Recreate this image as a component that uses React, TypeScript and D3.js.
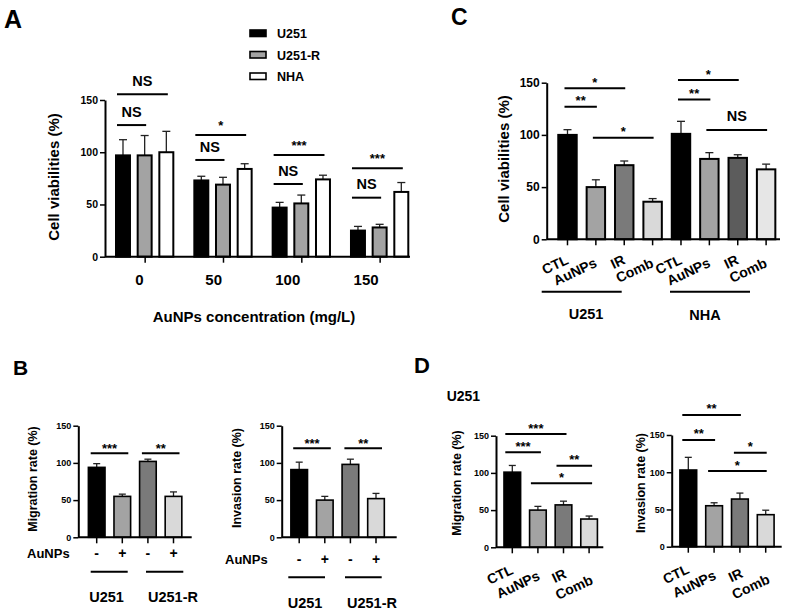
import React, { useEffect, useRef } from 'react';
import * as d3 from 'd3';

const FONT = '"Liberation Sans", Arial, Helvetica, sans-serif';
const yTicks = [0, 50, 100, 150];

// ---- Panel A: viability vs AuNPs concentration ----
const concentrations = ['0', '50', '100', '150'];
const cellLines = ['U251', 'U251-R', 'NHA'];
const cellLineFills = ['#000000', '#a3a3a3', '#ffffff'];
const u251Viability = [97, 73, 47, 25];
const u251ViabilitySd = [15, 4, 5, 4];
const u251rViability = [97, 69, 51, 28];
const u251rViabilitySd = [19, 7, 8, 3];
const nhaViability = [100, 84, 74, 62];
const nhaViabilitySd = [20, 5, 4, 9];

const aBrackets = [
  { group: '0', from: 0, to: 2, level: 155.5, label: 'NS' },
  { group: '0', from: 0, to: 1, level: 126, label: 'NS' },
  { group: '50', from: 0, to: 2, level: 116.5, label: '*' },
  { group: '50', from: 0, to: 1, level: 92.6, label: 'NS' },
  { group: '100', from: 0, to: 2, level: 97.3, label: '***' },
  { group: '100', from: 0, to: 1, level: 69.6, label: 'NS' },
  { group: '150', from: 0, to: 2, level: 84.6, label: '***' },
  { group: '150', from: 0, to: 1, level: 56.5, label: 'NS' },
];

// ---- Panel C: viability by treatment ----
const treatments = ['CTL', 'AuNPs', 'IR', 'Comb'];
const cKeys = ['U251-CTL', 'U251-AuNPs', 'U251-IR', 'U251-Comb', 'NHA-CTL', 'NHA-AuNPs', 'NHA-IR', 'NHA-Comb'];
const cU251Viability = [100, 50, 71, 36];
const cU251Sd = [5, 7, 4, 3];
const cNhaViability = [101, 77, 78, 67];
const cNhaSd = [12, 6, 3, 5];
const cFills = ['#000000', '#a3a3a3', '#7a7a7a', '#d9d9d9', '#000000', '#a3a3a3', '#5c5c5c', '#e6e6e6'];
const cBrackets = [
  { from: 0, to: 2, level: 144.6, label: '*' },
  { from: 0, to: 1, level: 127, label: '**' },
  { from: 1, to: 3, level: 97.3, label: '*' },
  { from: 4, to: 6, level: 152.6, label: '*' },
  { from: 4, to: 5, level: 134, label: '**' },
  { from: 5, to: 7, level: 104.7, label: 'NS' },
];

// ---- Panel B: migration / invasion, U251 vs U251-R ----
const bKeys = ['U251-', 'U251+', 'U251R-', 'U251R+'];
const bSigns = ['-', '+', '-', '+'];
const bMigration = [94, 55, 102, 55];
const bMigrationSd = [5, 3, 3, 6];
const bInvasion = [91, 50, 98, 52];
const bInvasionSd = [10, 5, 7, 7];
const bFills = ['#000000', '#a3a3a3', '#7a7a7a', '#d9d9d9'];
const bMigBrackets = [
  { from: 0, to: 1, level: 112.9, label: '***' },
  { from: 2, to: 3, level: 112.9, label: '**' },
];
const bInvBrackets = [
  { from: 0, to: 1, level: 119.6, label: '***' },
  { from: 2, to: 3, level: 119.6, label: '**' },
];

// ---- Panel D: migration / invasion by treatment, U251 ----
const dMigration = [101, 50, 57, 38];
const dMigrationSd = [9, 5, 5, 4];
const dInvasion = [103, 55, 64, 43];
const dInvasionSd = [17, 4, 8, 6];
const dFills = ['#000000', '#a3a3a3', '#7a7a7a', '#d9d9d9'];
const dMigBrackets = [
  { from: 0, to: 2, level: 152.3, label: '***' },
  { from: 0, to: 1, level: 127.7, label: '***' },
  { from: 2, to: 3, level: 109.7, label: '**' },
  { from: 1, to: 3, level: 86, label: '*' },
];
const dInvBrackets = [
  { from: 0, to: 2, level: 177, label: '**' },
  { from: 0, to: 1, level: 143.4, label: '**' },
  { from: 2, to: 3, level: 126.3, label: '*' },
  { from: 1, to: 3, level: 101.7, label: '*' },
];

type Bracket = { from: number; to: number; level: number; label: string };

function YAxis({ scale, x, fontSize }: { scale: d3.ScaleLinear<number, number>; x: number; fontSize: number }) {
  const ref = useRef<SVGGElement>(null);
  useEffect(() => {
    if (!ref.current) return;
    const g = d3.select(ref.current);
    g.selectAll('*').remove();
    g.call(d3.axisLeft(scale).tickValues(yTicks).tickSize(5).tickPadding(2).tickSizeOuter(0));
    g.attr('font-family', FONT).attr('font-size', fontSize).attr('font-weight', 'bold');
    g.select('.domain').attr('stroke', '#000').attr('stroke-width', 2);
    g.selectAll('.tick line').attr('stroke', '#000').attr('stroke-width', 1.5);
    g.selectAll('.tick text').attr('fill', '#000');
  });
  return <g ref={ref} transform={`translate(${x},0)`} />;
}

function XTicks({ scale, y }: { scale: d3.ScaleBand<string> | d3.ScalePoint<string>; y: number }) {
  const ref = useRef<SVGGElement>(null);
  useEffect(() => {
    if (!ref.current) return;
    const g = d3.select(ref.current);
    g.selectAll('*').remove();
    g.call(d3.axisBottom(scale as any).tickSize(6).tickSizeOuter(0).tickFormat(() => ''));
    g.select('.domain').remove();
    g.selectAll('.tick line').attr('stroke', '#000').attr('stroke-width', 1.5);
  });
  return <g ref={ref} transform={`translate(0,${y})`} />;
}

function SigMark({ x1, x2, y, label, starGap, nsGap, starSize, nsSize }: any) {
  const isNS = label === 'NS';
  const ty = isNS ? y - nsGap + nsSize * 0.36 : y - starGap + starSize * 0.58;
  return (
    <g>
      <line x1={x1} x2={x2} y1={y} y2={y} stroke="#000" strokeWidth={2} />
      <text x={(x1 + x2) / 2} y={ty} textAnchor="middle" fontSize={isNS ? nsSize : starSize}
        fontWeight="bold" fontFamily={FONT}>{label}</text>
    </g>
  );
}

interface BarPlotProps {
  keys: string[];
  values: number[];
  sds: number[];
  fills: string[];
  band: [number, number];
  axisSpan: [number, number];
  yPix: [number, number];
  yFont: number;
  barStroke: number;
  capWidth: number;
  brackets: Bracket[];
  bracketPad: [number, number];
  starGap: number;
  nsGap?: number;
  labels?: string[];
  labelFont?: number;
  labelOffset?: (i: number) => [number, number];
}

function BarPlot(p: BarPlotProps) {
  const x = d3.scaleBand<string>().domain(p.keys).range(p.band).paddingInner(0.35).paddingOuter(0.175);
  const y = d3.scaleLinear().domain([0, 150]).range(p.yPix);
  const bw = x.bandwidth();
  const cx = (i: number) => (x(p.keys[i]) as number) + bw / 2;
  return (
    <g>
      {p.keys.map((k, i) => {
        const top = y(p.values[i] + p.sds[i]);
        return (
          <g key={k}>
            <line x1={cx(i)} x2={cx(i)} y1={y(p.values[i])} y2={top} stroke="#222" strokeWidth={1.3} />
            <line x1={cx(i) - p.capWidth / 2} x2={cx(i) + p.capWidth / 2} y1={top} y2={top} stroke="#222" strokeWidth={1.3} />
            <rect x={x(k)} y={y(p.values[i])} width={bw} height={y(0) - y(p.values[i])}
              fill={p.fills[i]} stroke="#000" strokeWidth={p.barStroke} />
          </g>
        );
      })}
      <line x1={p.axisSpan[0]} x2={p.axisSpan[1]} y1={y(0)} y2={y(0)} stroke="#000" strokeWidth={2} />
      <XTicks scale={x} y={y(0)} />
      <YAxis scale={y} x={p.axisSpan[0]} fontSize={p.yFont} />
      {p.brackets.map((b, i) => (
        <SigMark key={i} x1={cx(b.from) - p.bracketPad[0]} x2={cx(b.to) + p.bracketPad[1]} y={y(b.level)}
          label={b.label} starGap={p.starGap} nsGap={p.nsGap ?? 13.5} starSize={13} nsSize={14.5} />
      ))}
      {p.labels && p.labels.map((t, i) => {
        const [dx, dy] = p.labelOffset ? p.labelOffset(i) : [2, 25];
        return (
          <text key={i} transform={`translate(${cx(i) + dx},${y(0) + dy}) rotate(-25)`} textAnchor="end"
            fontSize={p.labelFont ?? 14} fontWeight="bold" fontFamily={FONT}>{t}</text>
        );
      })}
    </g>
  );
}

function PanelA() {
  const y = d3.scaleLinear().domain([0, 150]).range([256.7, 100]);
  const xg = d3.scaleBand<string>().domain(concentrations).range([105.5, 418.8]).paddingInner(0.17).paddingOuter(0.085);
  const xs = d3.scaleBand<string>().domain(cellLines).range([0, xg.bandwidth()]).paddingInner(0.355).paddingOuter(0.1775);
  const means = [u251Viability, u251rViability, nhaViability];
  const sds = [u251ViabilitySd, u251rViabilitySd, nhaViabilitySd];
  const gc = (c: string) => (xg(c) as number) + xg.bandwidth() / 2;
  const bc = (c: string, j: number) => (xg(c) as number) + (xs(cellLines[j]) as number) + xs.bandwidth() / 2;
  const px = d3.scalePoint<string>().domain(concentrations).range([gc('0'), gc('150')]);
  return (
    <g>
      {concentrations.map((c, i) => (
        <g key={c}>
          {cellLines.map((l, j) => {
            const v = means[j][i];
            const top = y(v + sds[j][i]);
            const xc = bc(c, j);
            return (
              <g key={l}>
                <line x1={xc} x2={xc} y1={y(v)} y2={top} stroke="#222" strokeWidth={1.3} />
                <line x1={xc - 4} x2={xc + 4} y1={top} y2={top} stroke="#222" strokeWidth={1.3} />
                <rect x={(xg(c) as number) + (xs(l) as number)} y={y(v)} width={xs.bandwidth()} height={y(0) - y(v)}
                  fill={cellLineFills[j]} stroke="#000" strokeWidth={2} />
              </g>
            );
          })}
          <text x={gc(c) - 1} y={285} textAnchor="end" fontSize={15} fontWeight="bold" fontFamily={FONT}>{c}</text>
        </g>
      ))}
      <line x1={105} x2={410} y1={y(0)} y2={y(0)} stroke="#000" strokeWidth={2} />
      <XTicks scale={px} y={y(0)} />
      <YAxis scale={y} x={105} fontSize={10.5} />
      {aBrackets.map((b, i) => (
        <SigMark key={i} x1={bc(b.group, b.from) - 6} x2={bc(b.group, b.to) + 1.5} y={y(b.level)}
          label={b.label} starGap={12.5} nsGap={13.5} starSize={13} nsSize={14.5} />
      ))}
      {cellLines.map((l, j) => (
        <g key={l}>
          <rect x={250} y={30 + j * 21.5} width={16} height={6.5} fill={cellLineFills[j]} stroke="#000" strokeWidth={1.6} />
          <text x={277} y={38 + j * 21.5} fontSize={12.5} fontWeight="bold" fontFamily={FONT}>{l}</text>
        </g>
      ))}
      <text x={254} y={322} textAnchor="middle" fontSize={15} fontWeight="bold" fontFamily={FONT}>AuNPs concentration (mg/L)</text>
      <text transform="translate(59,177) rotate(-90)" textAnchor="middle" fontSize={15} fontWeight="bold" fontFamily={FONT}>Cell viabilities (%)</text>
    </g>
  );
}

const bold = { fontWeight: 'bold' as const, fontFamily: FONT };

export default function App() {
  const bCenters = (band: [number, number]) => {
    const x = d3.scaleBand<string>().domain(bKeys).range(band).paddingInner(0.35).paddingOuter(0.175);
    return bKeys.map((k) => (x(k) as number) + x.bandwidth() / 2);
  };
  const bLeft = bCenters([83.9, 186.3]);
  const bRight = bCenters([286.4, 388.8]);
  return (
    <svg width={790} height={611} style={{ position: 'absolute', left: 0, top: 0, background: '#fff' }}>
      {/* panel letters */}
      <text x={4} y={28} fontSize={25} {...bold}>A</text>
      <text x={451} y={25} fontSize={23} {...bold}>C</text>
      <text x={13} y={375} fontSize={21} {...bold}>B</text>
      <text x={414} y={373} fontSize={22} {...bold}>D</text>

      <PanelA />

      {/* Panel C */}
      <BarPlot keys={cKeys} values={[...cU251Viability, ...cNhaViability]} sds={[...cU251Sd, ...cNhaSd]} fills={cFills}
        band={[553.3, 780.3]} axisSpan={[546.7, 780]} yPix={[239.3, 82.7]} yFont={12} barStroke={2} capWidth={8}
        brackets={cBrackets} bracketPad={[3, 1]} starGap={9} nsGap={14}
        labels={[...treatments, ...treatments]} labelFont={14} labelOffset={(i) => [2, 24 + (i % 2) * 3]} />
      <text transform="translate(509,159) rotate(-90)" textAnchor="middle" fontSize={15} {...bold}>Cell viabilities (%)</text>
      <line x1={541.7} x2={621.7} y1={291.7} y2={291.7} stroke="#000" strokeWidth={2} />
      <line x1={670} x2={750} y1={291.7} y2={291.7} stroke="#000" strokeWidth={2} />
      <text x={586} y={319} textAnchor="middle" fontSize={14.5} {...bold}>U251</text>
      <text x={705} y={320} textAnchor="middle" fontSize={14.5} {...bold}>NHA</text>

      {/* Panel B left: migration */}
      <BarPlot keys={bKeys} values={bMigration} sds={bMigrationSd} fills={bFills}
        band={[83.9, 186.3]} axisSpan={[78.3, 191.7]} yPix={[537.3, 425.7]} yFont={9} barStroke={1.6} capWidth={7}
        brackets={bMigBrackets} bracketPad={[6, 6]} starGap={8} />
      <text transform="translate(37,479) rotate(-90)" textAnchor="middle" fontSize={12.5} {...bold}>Migration rate (%)</text>
      <text x={27} y={558} fontSize={13} {...bold}>AuNPs</text>
      {bSigns.map((s, i) => (
        <text key={i} x={bLeft[i]} y={558} textAnchor="middle" fontSize={14} {...bold}>{s}</text>
      ))}
      <line x1={90.7} x2={127.7} y1={571.7} y2={571.7} stroke="#000" strokeWidth={2} />
      <line x1={146} x2={183.3} y1={571.7} y2={571.7} stroke="#000" strokeWidth={2} />
      <text x={106.5} y={602} textAnchor="middle" fontSize={14.5} {...bold}>U251</text>
      <text x={173} y={602} textAnchor="middle" fontSize={14.5} {...bold}>U251-R</text>

      {/* Panel B right: invasion */}
      <BarPlot keys={bKeys} values={bInvasion} sds={bInvasionSd} fills={bFills}
        band={[286.4, 388.8]} axisSpan={[281.7, 396.7]} yPix={[537.3, 425.7]} yFont={9} barStroke={1.6} capWidth={7}
        brackets={bInvBrackets} bracketPad={[6, 6]} starGap={8} />
      <text transform="translate(241,478) rotate(-90)" textAnchor="middle" fontSize={12.5} {...bold}>Invasion rate (%)</text>
      <text x={225} y={564} fontSize={13} {...bold}>AuNPs</text>
      {bSigns.map((s, i) => (
        <text key={i} x={bRight[i]} y={564} textAnchor="middle" fontSize={14} {...bold}>{s}</text>
      ))}
      <line x1={288.3} x2={325} y1={577.3} y2={577.3} stroke="#000" strokeWidth={2} />
      <line x1={345} x2={381.7} y1={577.3} y2={577.3} stroke="#000" strokeWidth={2} />
      <text x={305} y={608} textAnchor="middle" fontSize={14.5} {...bold}>U251</text>
      <text x={372} y={608} textAnchor="middle" fontSize={14.5} {...bold}>U251-R</text>

      {/* Panel D */}
      <text x={446.7} y={401} fontSize={14} {...bold}>U251</text>
      <BarPlot keys={treatments} values={dMigration} sds={dMigrationSd} fills={dFills}
        band={[499.5, 601.9]} axisSpan={[496, 603.3]} yPix={[547.3, 435.7]} yFont={9} barStroke={1.6} capWidth={7}
        brackets={dMigBrackets} bracketPad={[7, 3]} starGap={9}
        labels={treatments} labelFont={14} labelOffset={(i) => [2 + i, 26 + 2 * i + (i % 2) * 4]} />
      <text transform="translate(461,483) rotate(-90)" textAnchor="middle" fontSize={12.5} {...bold}>Migration rate (%)</text>
      <BarPlot keys={treatments} values={dInvasion} sds={dInvasionSd} fills={dFills}
        band={[675.4, 778.6]} axisSpan={[671.7, 781.7]} yPix={[546.7, 435]} yFont={9} barStroke={1.6} capWidth={7}
        brackets={dInvBrackets} bracketPad={[6, 1]} starGap={9}
        labels={treatments} labelFont={14} labelOffset={(i) => [2 + i, 26 + 2 * i + (i % 2) * 4]} />
      <text transform="translate(645,483) rotate(-90)" textAnchor="middle" fontSize={12.5} {...bold}>Invasion rate (%)</text>
    </svg>
  );
}
